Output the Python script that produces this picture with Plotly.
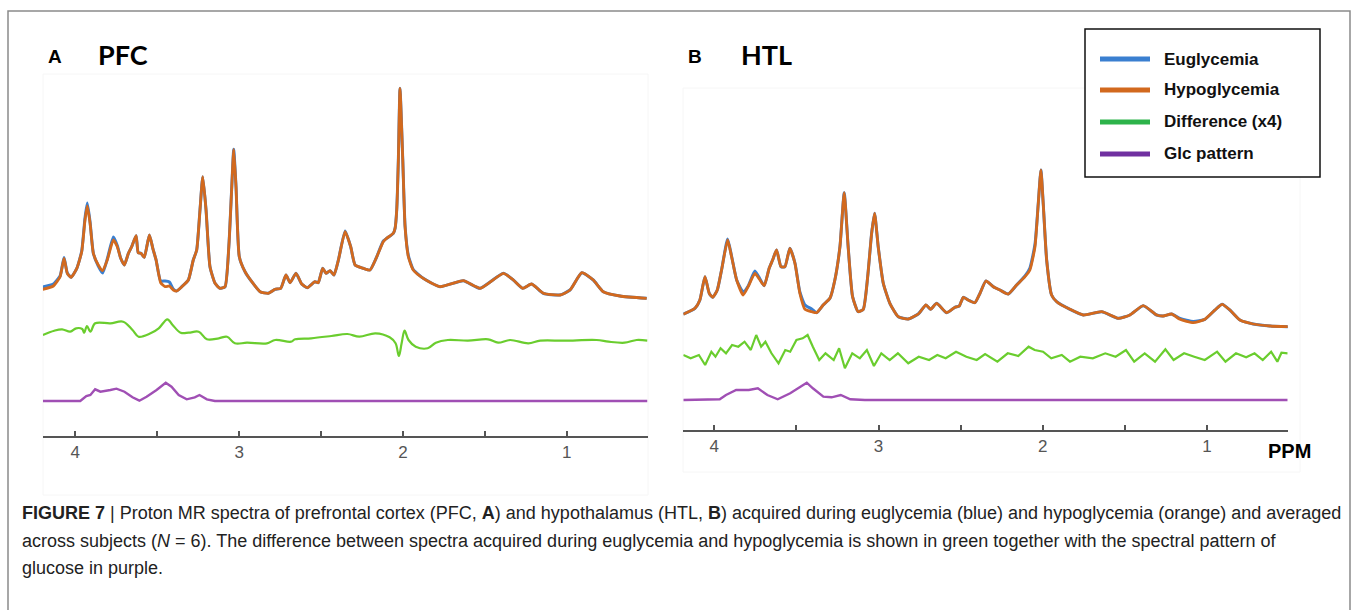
import plotly.graph_objects as go

W, H = 1358, 610

# ---------------- Panel A (PFC) ----------------
A_ppm = [4.199, 4.134, 4.093, 4.069, 4.049, 4.026, 3.991, 3.961, 3.941, 3.927,
         3.910, 3.890, 3.860, 3.833, 3.805, 3.768, 3.744, 3.723, 3.701, 3.676,
         3.656, 3.629, 3.616, 3.599, 3.579, 3.548, 3.527, 3.507, 3.479, 3.452,
         3.426, 3.402, 3.381, 3.350, 3.310, 3.280, 3.259, 3.239, 3.222, 3.202,
         3.178, 3.147, 3.117, 3.086, 3.063, 3.045, 3.033, 3.019, 2.999, 2.964,
         2.923, 2.872, 2.822, 2.781, 2.746, 2.714, 2.689, 2.653, 2.618, 2.584,
         2.537, 2.517, 2.490, 2.469, 2.445, 2.421, 2.394, 2.353, 2.319, 2.292,
         2.242, 2.201, 2.163, 2.120, 2.099, 2.059, 2.048, 2.038, 2.028, 2.018,
         2.001, 1.987, 1.967, 1.937, 1.876, 1.774, 1.631, 1.529, 1.387, 1.326,
         1.269, 1.214, 1.143, 1.041, 0.980, 0.908, 0.838, 0.777, 0.675, 0.512]
A_hypo = [146.7, 150, 159.3, 177.7, 162.7, 158.7, 167.7, 184.3, 216, 230,
          212.7, 182.7, 171, 165.3, 176, 196, 189.3, 177.7, 171, 182.7,
          189.3, 200.3, 183.3, 182.7, 178.7, 201, 187.7, 176, 153.3, 149.3,
          150, 146, 145, 149.3, 156, 176, 186, 226, 259.3, 226,
          169.3, 152.7, 147.7, 149.3, 189.3, 249.3, 286.7, 249.3, 179.3, 164.3,
          154.3, 144.3, 142.7, 146.7, 147.7, 161, 153.3, 162.7, 152, 148.3,
          154.3, 153.3, 167.7, 162.7, 165.3, 161, 176, 204.3, 189.3, 171,
          167.7, 166, 178, 194.3, 197.7, 202.7, 207.7, 226, 276, 347.7,
          276, 209.3, 179.3, 166, 157.7, 149.3, 155.3, 147.7, 162.7, 156,
          147.7, 152, 142.7, 141, 146, 163.3, 156, 144.3, 140, 137.7]
A_eu = [149, 152, 160, 178.5, 163, 158.7, 167.7, 185, 218, 233,
        214, 182.7, 170, 163, 177, 199, 190.5, 177.7, 171, 182.7,
        189.3, 200.3, 183.3, 182.7, 178.7, 201, 187.7, 176, 155, 155,
        154, 147, 145, 149.3, 156, 176, 186, 226, 259.3, 226,
        169.3, 152.7, 147.7, 149.3, 189.3, 249.3, 286.7, 249.3, 179.3, 164.3,
        154.3, 144.3, 142.7, 146.7, 147.7, 161, 153.3, 162.7, 152, 148.3,
        154.3, 153.3, 167.7, 162.7, 165.3, 161, 176, 205, 189.3, 171,
        167.7, 166, 178, 195, 197.7, 202.7, 207.7, 226, 276, 347.7,
        276, 210, 180.5, 166.5, 157.7, 149.3, 155.3, 147.7, 162.7, 156,
        147.7, 152, 142.7, 141, 146, 163.3, 156, 144.3, 140, 137.7]

A_diff_ppm = [4.198, 4.129, 4.081, 4.031, 3.995, 3.958, 3.946, 3.929, 3.908, 3.879,
              3.786, 3.708, 3.651, 3.614, 3.541, 3.491, 3.438, 3.406, 3.357, 3.308,
              3.247, 3.197, 3.124, 3.074, 3.026, 2.952, 2.830, 2.780, 2.683, 2.658,
              2.560, 2.437, 2.339, 2.266, 2.168, 2.081, 2.045, 2.025, 2.008, 1.990,
              1.966, 1.922, 1.849, 1.799, 1.726, 1.603, 1.480, 1.419, 1.346, 1.235,
              1.162, 1.014, 0.818, 0.745, 0.647, 0.573, 0.507]
A_diff = [101, 105.3, 106.7, 104.3, 107.7, 107, 103.3, 110, 104.3, 112.7,
          112.7, 114.3, 106, 99.3, 102.7, 107.7, 116.7, 111, 103.3, 103.3,
          104.3, 96.7, 97.7, 99.3, 92.7, 93.3, 92.7, 96, 94.3, 96.7,
          97.7, 100, 102, 99.3, 102.7, 98.7, 92.7, 80, 92.7, 105.3,
          96, 89.3, 87.7, 93.3, 96, 95.3, 96.7, 93.3, 96, 92.7,
          95.3, 95.3, 96, 94.3, 93.3, 96, 95.3]

A_glc_ppm = [4.198, 3.970, 3.933, 3.908, 3.879, 3.847, 3.786, 3.749, 3.700, 3.651,
             3.609, 3.565, 3.504, 3.448, 3.413, 3.369, 3.320, 3.271, 3.242, 3.197,
             3.148, 0.507]
A_glc = [35, 35, 40, 41, 46.7, 44.3, 46, 47.3, 44.3, 38.7,
         35.3, 39.3, 46, 53.3, 49.3, 41, 36.7, 38.7, 41, 36.7,
         35, 35]

# ---------------- Panel B (HTL) ----------------
B_ppm = [4.189, 4.118, 4.088, 4.057, 4.031, 4.010, 3.982, 3.956, 3.919, 3.895,
         3.864, 3.824, 3.794, 3.753, 3.722, 3.696, 3.666, 3.645, 3.621, 3.594,
         3.570, 3.540, 3.509, 3.479, 3.448, 3.407, 3.377, 3.337, 3.296, 3.266,
         3.235, 3.209, 3.185, 3.158, 3.124, 3.093, 3.066, 3.042, 3.024, 3.002,
         2.971, 2.931, 2.880, 2.819, 2.758, 2.711, 2.683, 2.646, 2.585, 2.535,
         2.508, 2.484, 2.454, 2.413, 2.382, 2.346, 2.301, 2.261, 2.210, 2.159,
         2.108, 2.078, 2.047, 2.027, 2.011, 1.997, 1.976, 1.946, 1.915, 1.834,
         1.753, 1.641, 1.540, 1.469, 1.388, 1.306, 1.266, 1.215, 1.164, 1.083,
         1.012, 0.951, 0.907, 0.860, 0.799, 0.718, 0.616, 0.505]
B_hypo = [115.7, 121.7, 130, 153.3, 136.7, 132.7, 140, 160, 190, 173.3,
          150, 135, 143.3, 156.7, 150, 144.3, 161.7, 170, 180, 163.3,
          163.3, 181.7, 166.7, 136.7, 120.7, 118.3, 117.3, 125, 131.7, 150,
          183.3, 237.3, 183.3, 133.3, 118.3, 120.7, 153.3, 196.7, 216.7, 183.3,
          146.7, 126.7, 113.3, 111, 116, 125, 120.7, 126.7, 117.3, 122.7,
          124, 132.7, 130, 127.3, 136.7, 149, 143.3, 140, 136, 145,
          153.3, 160, 183.3, 226.7, 260, 226.7, 170, 135, 128.3, 120.7,
          115, 118.3, 111.7, 115, 124.3, 115, 114, 116, 110.7, 107.3,
          110.7, 120, 125.7, 120, 110, 106, 104, 103.3]
B_eu = [116, 121.7, 130, 153.3, 136.7, 132.7, 140, 160, 191, 174,
        150, 138, 144, 159, 151, 144.3, 161.7, 170, 180, 163.3,
        163.3, 181.7, 167, 138, 125, 121, 117.3, 125, 131.7, 150,
        183.3, 237.3, 183.3, 133.3, 118.3, 120.7, 153.3, 196.7, 216.7, 183.3,
        146.7, 126.7, 113.3, 111, 116, 125, 120.7, 126.7, 117.3, 122.7,
        124, 132.7, 130, 127.3, 136.7, 149, 143.3, 140, 136, 145,
        154, 162, 186, 227, 260, 226.7, 170, 135, 128.3, 120.7,
        115, 118.3, 111.7, 115, 124.3, 115, 114, 116, 111.5, 108.5,
        110.7, 120, 125.7, 120, 110, 106, 104, 103.3]

B_diff_ppm = [4.189, 4.144, 4.094, 4.056, 4.018, 3.993, 3.962, 3.929, 3.892, 3.854,
              3.816, 3.778, 3.745, 3.715, 3.689, 3.652, 3.609, 3.568, 3.538, 3.500,
              3.462, 3.432, 3.400, 3.361, 3.323, 3.273, 3.240, 3.205, 3.160, 3.114,
              3.071, 3.028, 2.983, 2.932, 2.882, 2.819, 2.755, 2.692, 2.642, 2.591,
              2.528, 2.465, 2.402, 2.351, 2.276, 2.213, 2.149, 2.086, 2.049, 1.998,
              1.948, 1.884, 1.834, 1.771, 1.695, 1.619, 1.556, 1.493, 1.443, 1.379,
              1.316, 1.253, 1.203, 1.139, 1.077, 1.013, 0.938, 0.887, 0.823, 0.761,
              0.710, 0.660, 0.609, 0.571, 0.546, 0.508]
B_diff = [75, 71.7, 75, 65, 78.3, 73.3, 81.7, 76.7, 85, 83.3,
          88.3, 80, 95, 83.3, 88.3, 76.7, 66.7, 80, 78.3, 90,
          91.7, 95, 83.3, 70, 76.7, 70, 81.7, 61.7, 76.7, 71.7,
          80, 64, 76.7, 70, 76.7, 66.7, 73.3, 70, 75, 71.7,
          78.3, 73.3, 70, 76, 68.3, 76.7, 74, 83.3, 80, 78.3,
          71.7, 75, 68.3, 73.3, 71.7, 76.7, 73.3, 80, 68.3, 76.7,
          68.3, 80.7, 70, 76.7, 73.3, 70, 78.3, 68.3, 76.7, 72.7,
          76.7, 70, 78.3, 68.3, 77.3, 76.7]

B_glc_ppm = [4.189, 3.967, 3.929, 3.867, 3.790, 3.735, 3.677, 3.614, 3.538, 3.475,
             3.437, 3.400, 3.336, 3.286, 3.230, 3.172, 3.083, 0.508]
B_glc = [30, 30.7, 35, 40, 40, 41.7, 35, 30.7, 36.7, 43.3,
         47.3, 41.7, 33.3, 32.7, 35, 30.7, 30, 30]

tick_vals = [4, 3.5, 3, 2.5, 2, 1.5, 1, 0.5]
tick_text = ["4", "", "3", "", "2", "", "1", ""]

legend_names = ["Euglycemia", "Hypoglycemia", "Difference (x4)", "Glc pattern"]
legend_colors = ["#3a7fd0", "#d2691e", "#2db34a", "#7030a0"]

C_BLUE = "#3a7fd0"
C_ORANGE = "#d2691e"
C_GREEN = "#6acd2e"
C_PURPLE = "#a04fb4"

fig = go.Figure()


def add_panel(xa, ya, ppm, eu, hypo, dppm, diff, gppm, glc, dshape):
    kw = dict(xaxis=xa, yaxis=ya, mode="lines", showlegend=False, hoverinfo="skip")
    fig.add_trace(go.Scatter(x=gppm, y=glc, line=dict(color=C_PURPLE, width=2.4), **kw))
    fig.add_trace(go.Scatter(x=dppm, y=diff, line=dict(color=C_GREEN, width=2.2, shape=dshape), **kw))
    fig.add_trace(go.Scatter(x=ppm, y=eu, line=dict(color=C_BLUE, width=3, shape="spline", smoothing=0.5), **kw))
    fig.add_trace(go.Scatter(x=ppm, y=hypo, line=dict(color=C_ORANGE, width=2.8, shape="spline", smoothing=0.5), **kw))


add_panel("x", "y", A_ppm, A_eu, A_hypo, A_diff_ppm, A_diff, A_glc_ppm, A_glc, "spline")
add_panel("x2", "y2", B_ppm, B_eu, B_hypo, B_diff_ppm, B_diff, B_glc_ppm, B_glc, "linear")


def px(x):
    return x / W


def py(y):
    return 1 - y / H


axis_common = dict(
    tickmode="array", tickvals=tick_vals, ticktext=tick_text,
    ticks="inside", ticklen=5, tickwidth=1.5, tickcolor="#555555",
    showline=True, linecolor="#555555", linewidth=1.5,
    showgrid=False, zeroline=False,
    tickfont=dict(family="Liberation Sans, Arial, sans-serif", size=17, color="#555555"),
    fixedrange=True,
)

fig.update_layout(
    width=W, height=H,
    margin=dict(l=0, r=0, t=0, b=0),
    paper_bgcolor="white", plot_bgcolor="white",
    xaxis=dict(domain=[px(42.9), px(647.5)], range=[4.198, 0.507], anchor="y", **axis_common),
    yaxis=dict(domain=[py(436), py(70)], range=[0, 366], visible=False, anchor="x"),
    xaxis2=dict(domain=[px(683.3), px(1287.7)], range=[4.189, 0.508], anchor="y2", **axis_common),
    yaxis2=dict(domain=[py(430), py(90)], range=[0, 340], visible=False, anchor="x2"),
)

shapes = []
# outer frame
shapes.append(dict(type="rect", xref="paper", yref="paper", x0=px(8), x1=px(1350), y0=py(640), y1=py(11),
                   line=dict(color="#8a8a8a", width=1.5), fillcolor="rgba(0,0,0,0)", layer="below"))
# faint image frames
shapes.append(dict(type="rect", xref="paper", yref="paper", x0=px(43), x1=px(648), y0=py(495), y1=py(74),
                   line=dict(color="#f6f6f6", width=1), layer="below"))
shapes.append(dict(type="rect", xref="paper", yref="paper", x0=px(683), x1=px(1300), y0=py(472), y1=py(88),
                   line=dict(color="#f6f6f6", width=1), layer="below"))
# legend box
shapes.append(dict(type="rect", xref="paper", yref="paper", x0=px(1085), x1=px(1320), y0=py(177), y1=py(29),
                   line=dict(color="#111111", width=1.5), fillcolor="white"))
leg_y = [59, 90, 122, 154]
for yy, col in zip(leg_y, legend_colors):
    shapes.append(dict(type="line", xref="paper", yref="paper", x0=px(1100), x1=px(1150), y0=py(yy), y1=py(yy),
                       line=dict(color=col, width=5)))

annotations = []
for yy, name in zip(leg_y, legend_names):
    annotations.append(dict(x=px(1162), y=py(yy), xref="paper", yref="paper", xanchor="left", yanchor="middle",
                            text=f"<b>{name}</b>", showarrow=False,
                            font=dict(family="Liberation Sans, Arial, sans-serif", size=17, color="#111111")))

title_font = dict(family="Lato, sans-serif", size=27, color="#000000")
lab_font = dict(family="Liberation Sans, Arial, sans-serif", size=19, color="#000000")
annotations += [
    dict(x=px(55), y=py(57), xref="paper", yref="paper", xanchor="center", yanchor="middle",
         text="<b>A</b>", showarrow=False, font=lab_font),
    dict(x=px(96), y=py(55), xref="paper", yref="paper", xanchor="left", yanchor="middle",
         text="<b>PFC</b>", showarrow=False, font=title_font),
    dict(x=px(695), y=py(57), xref="paper", yref="paper", xanchor="center", yanchor="middle",
         text="<b>B</b>", showarrow=False, font=lab_font),
    dict(x=px(739), y=py(55), xref="paper", yref="paper", xanchor="left", yanchor="middle",
         text="<b>HTL</b>", showarrow=False, font=title_font),
    dict(x=px(1289), y=py(451), xref="paper", yref="paper", xanchor="center", yanchor="middle",
         text="<b>PPM</b>", showarrow=False,
         font=dict(family="Liberation Sans, Arial, sans-serif", size=20, color="#000000")),
]

cap_font = dict(family="Liberation Sans, Arial, sans-serif", size=18, color="#222222")
caption_lines = [
    "<b>FIGURE 7</b> | Proton MR spectra of prefrontal cortex (PFC, <b>A</b>) and hypothalamus (HTL, <b>B</b>) "
    "acquired during euglycemia (blue) and hypoglycemia (orange) and averaged",
    "across subjects (<i>N</i> = 6). The difference between spectra acquired during euglycemia and hypoglycemia "
    "is shown in green together with the spectral pattern of",
    "glucose in purple.",
]
for yy, line in zip([513, 541, 568], caption_lines):
    annotations.append(dict(x=px(20), y=py(yy), xref="paper", yref="paper", xanchor="left", yanchor="middle",
                            text=line, showarrow=False, font=cap_font, align="left"))

fig.update_layout(shapes=shapes, annotations=annotations)

fig.write_html("out.html")
